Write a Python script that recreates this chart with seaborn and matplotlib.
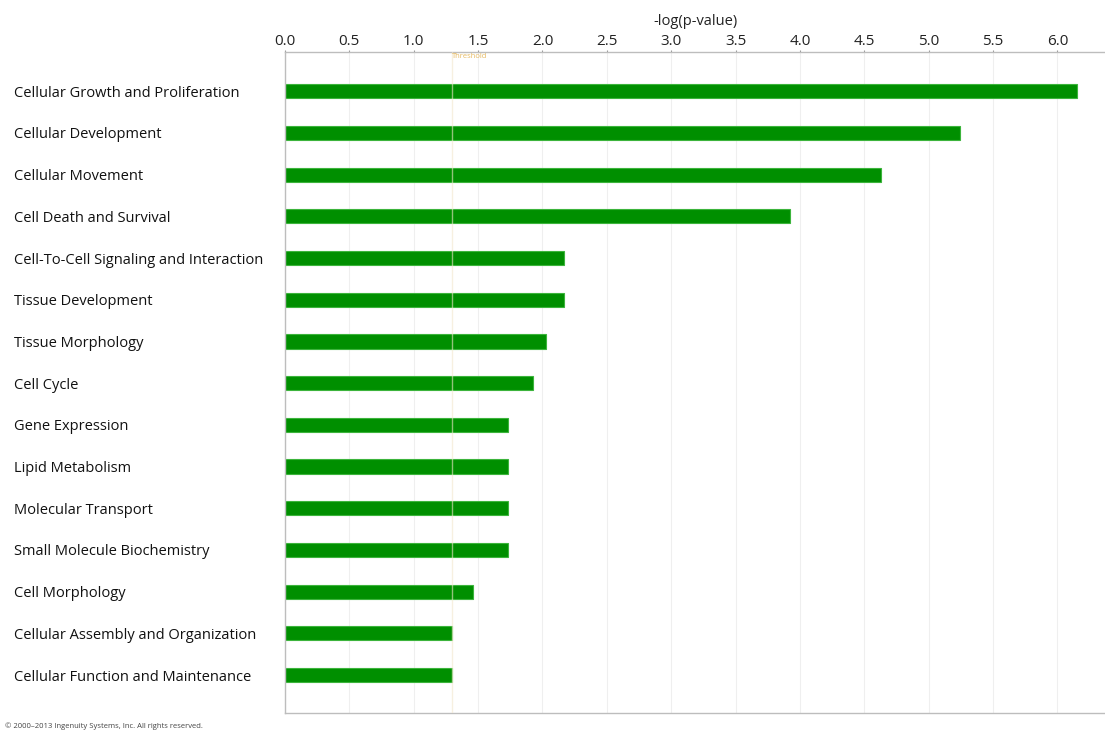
import pandas as pd
import numpy as np
import matplotlib.pyplot as plt
import seaborn as sns
from matplotlib.transforms import blended_transform_factory

categories = [
    'Cellular Growth and Proliferation',
    'Cellular Development',
    'Cellular Movement',
    'Cell Death and Survival',
    'Cell-To-Cell Signaling and Interaction',
    'Tissue Development',
    'Tissue Morphology',
    'Cell Cycle',
    'Gene Expression',
    'Lipid Metabolism',
    'Molecular Transport',
    'Small Molecule Biochemistry',
    'Cell Morphology',
    'Cellular Assembly and Organization',
    'Cellular Function and Maintenance',
]
neg_log_p = [6.15, 5.24, 4.63, 3.92, 2.17, 2.17, 2.03, 1.93, 1.73, 1.73, 1.73, 1.73, 1.46, 1.30, 1.30]
threshold = 1.3
x_ticks = [0.0, 0.5, 1.0, 1.5, 2.0, 2.5, 3.0, 3.5, 4.0, 4.5, 5.0, 5.5, 6.0]

df = pd.DataFrame({'category': categories, 'value': neg_log_p})

sns.set_style('white')
plt.rcParams['font.family'] = ['Open Sans', 'DejaVu Sans']

fig = plt.figure(figsize=(11.05, 7.31), dpi=100)
ax = fig.add_axes([285 / 1105, 1 - 713 / 731, 1 - 285 / 1105, (713 - 52) / 731])

sns.barplot(data=df, x='value', y='category', orient='h', color='#008f00',
            edgecolor='#3cb43c', linewidth=0.8, width=0.34, ax=ax, saturation=1)

ax.set_xlim(0, 6.37)
ax.set_ylim(len(categories) - 1 + 0.91, -0.94)

# faint vertical grid
for t in x_ticks:
    ax.axvline(t, color='#efefef', lw=0.8, zorder=0)

# threshold line (faint, crosses the bars)
ax.axvline(threshold, color='#f3e6cc', lw=1.0, alpha=0.6, zorder=3)
ax.text(threshold, 0.999, 'Threshold', transform=blended_transform_factory(ax.transData, ax.transAxes),
        fontsize=5.5, color='#e6b960', ha='left', va='top')

ax.xaxis.tick_top()
ax.xaxis.set_label_position('top')
ax.set_xticks(x_ticks)
ax.set_xticklabels([f'{t:.1f}' for t in x_ticks], fontsize=11, color='#222222')
ax.tick_params(axis='x', length=1.5, color='#999999', pad=1)
ax.set_xlabel('-log(p-value)', fontsize=10.5, color='#222222', labelpad=6)

ax.set_ylabel('')
ax.tick_params(axis='y', length=0, pad=195)
for lab in ax.get_yticklabels():
    lab.set_horizontalalignment('left')
    lab.set_fontsize(10.5)
    lab.set_color('#111111')

for side in ['top', 'left', 'bottom']:
    ax.spines[side].set_color('#bdbdbd')
    ax.spines[side].set_linewidth(1.0)
ax.spines['right'].set_visible(False)

fig.text(5 / 1105, 1 - 726 / 731, '\u00a9 2000\u20132013 Ingenuity Systems, Inc. All rights reserved.',
         fontsize=5.5, color='#444444', ha='left', va='center')

fig.savefig('out.png', dpi=100)
